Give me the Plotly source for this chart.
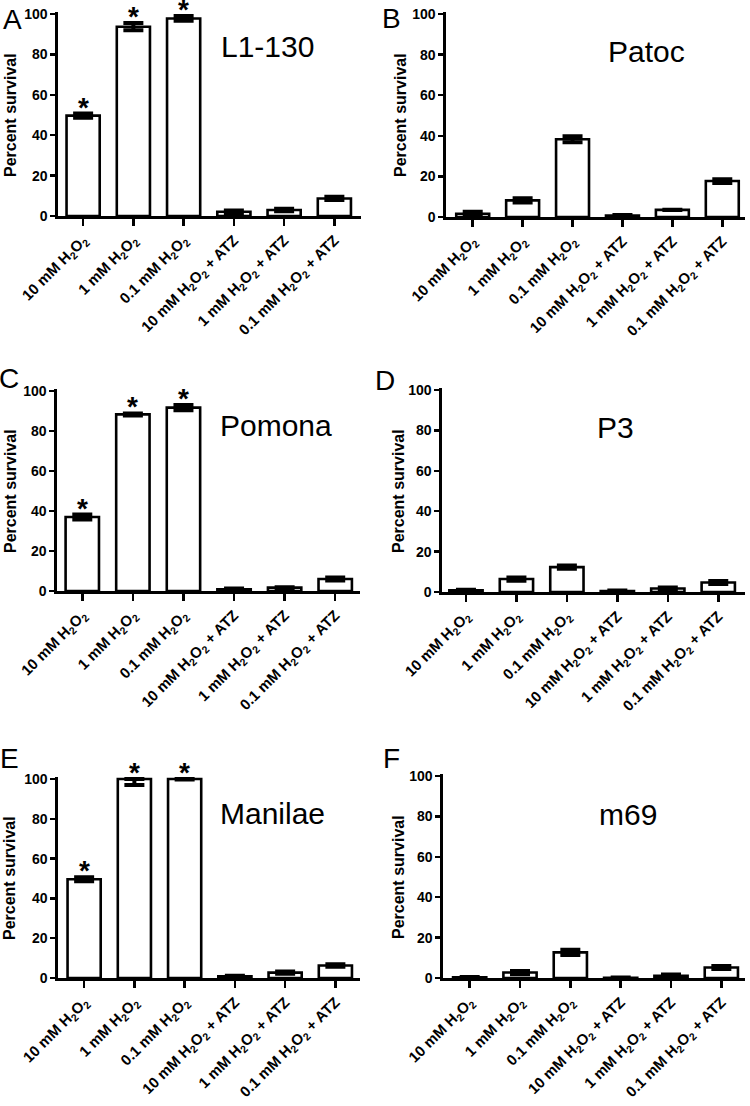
import plotly.graph_objects as go

# ---------------- data ----------------
categories = [
    "10 mM H<sub>2</sub>O<sub>2</sub>",
    "1 mM H<sub>2</sub>O<sub>2</sub>",
    "0.1 mM H<sub>2</sub>O<sub>2</sub>",
    "10 mM H<sub>2</sub>O<sub>2</sub> + ATZ",
    "1 mM H<sub>2</sub>O<sub>2</sub> + ATZ",
    "0.1 mM H<sub>2</sub>O<sub>2</sub> + ATZ",
]
strains = ["L1-130", "Patoc", "Pomona", "P3", "Manilae", "m69"]
panel_letters = ["A", "B", "C", "D", "E", "F"]
y_ticks = [0, 20, 40, 60, 80, 100]
y_title = "Percent survival"

surv_L1_130 = [49.7, 93.7, 97.8, 2.1, 3.0, 8.7]
err_L1_130 = [1.0, 1.8, 1.2, 0.6, 0.6, 0.8]
sig_L1_130 = [True, True, True, False, False, False]

surv_Patoc = [1.6, 8.2, 38.3, 0.7, 3.5, 17.7]
err_Patoc = [1.0, 1.0, 1.5, 0.3, 0.1, 0.9]
sig_Patoc = [False] * 6

surv_Pomona = [37.0, 88.3, 91.7, 0.9, 1.7, 6.0]
err_Pomona = [1.2, 0.5, 1.3, 0.4, 0.2, 0.8]
sig_Pomona = [True, True, True, False, False, False]

surv_P3 = [0.8, 6.4, 12.3, 0.5, 1.7, 4.7]
err_P3 = [0.3, 0.8, 0.8, 0.3, 0.5, 0.8]
sig_P3 = [False] * 6

surv_Manilae = [49.6, 100.0, 100.0, 0.8, 2.7, 6.3]
err_plus_Manilae = [1.0, 0.0, 0.2, 0.3, 0.6, 0.6]
err_minus_Manilae = [1.0, 3.0, 0.2, 0.3, 0.6, 0.6]
sig_Manilae = [True, True, True, False, False, False]

surv_m69 = [0.3, 2.7, 12.7, 0.1, 1.1, 5.2]
err_m69 = [0.2, 0.8, 1.3, 0.1, 0.6, 0.8]
sig_m69 = [False] * 6

values = [surv_L1_130, surv_Patoc, surv_Pomona, surv_P3, surv_Manilae, surv_m69]
err_plus = [err_L1_130, err_Patoc, err_Pomona, err_P3, err_plus_Manilae, err_m69]
err_minus = [err_L1_130, err_Patoc, err_Pomona, err_P3, err_minus_Manilae, err_m69]
sigs = [sig_L1_130, sig_Patoc, sig_Pomona, sig_P3, sig_Manilae, sig_m69]

# ---------------- layout (pixel geometry) ----------------
W, H = 750, 1106
# x_left, x_right, y_px_at_100, y_px_at_0, x range
panels = [
    dict(xl=58, xr=361, y100=14, y0=216, xr_=[-0.50, 5.53]),
    dict(xl=446, xr=745, y100=14, y0=217, xr_=[-0.535, 5.455]),
    dict(xl=57, xr=360, y100=391, y0=591, xr_=[-0.50, 5.49]),
    dict(xl=442, xr=745, y100=390, y0=592, xr_=[-0.475, 5.53]),
    dict(xl=58, xr=360, y100=779, y0=978, xr_=[-0.52, 5.49]),
    dict(xl=443, xr=745, y100=776, y0=978, xr_=[-0.53, 5.47]),
]
title_pos = [(267, 47), (646, 52), (276, 425), (615, 428), (272, 813), (628, 814)]
letter_pos = [(12, 20), (392, 19), (9, 378), (385, 380), (9, 758), (392, 758)]
ytitle_pos = [(10, 115), (400, 115), (10, 491), (398, 491), (10, 878), (398, 877)]

FONT = "Liberation Sans, Arial, sans-serif"
YMAX = 101.0

fig = go.Figure()
annotations = []
layout_axes = {}

for i in range(6):
    p = panels[i]
    n = "" if i == 0 else str(i + 1)
    xa, ya = "x" + n, "y" + n
    ppu = (p["y0"] - p["y100"]) / 100.0
    ytop_px = p["y0"] - YMAX * ppu
    fig.add_trace(go.Bar(
        x=list(range(6)), y=values[i],
        xaxis=xa, yaxis=ya,
        width=0.66,
        marker=dict(color="white", line=dict(color="black", width=2.6)),
        error_y=dict(type="data", array=err_plus[i], arrayminus=err_minus[i],
                     symmetric=False, color="black", thickness=4, width=10),
        showlegend=False, hoverinfo="skip",
    ))
    layout_axes["xaxis" + n] = dict(
        domain=[p["xl"] / W, p["xr"] / W],
        range=p["xr_"], anchor=ya, automargin=False,
        tickmode="array", tickvals=list(range(6)), ticktext=categories,
        tickangle=-45, ticks="outside", ticklen=7, tickwidth=2.5, tickcolor="black",
        showline=True, linewidth=2.6, linecolor="black",
        showgrid=False, zeroline=False, fixedrange=True,
        tickfont=dict(family=FONT, size=15, color="black", weight="bold"),
    )
    layout_axes["yaxis" + n] = dict(
        domain=[1 - p["y0"] / H, 1 - ytop_px / H],
        range=[0, YMAX], anchor=xa, automargin=False,
        tickmode="array", tickvals=y_ticks,
        ticks="outside", ticklen=5, tickwidth=2.5, tickcolor="black",
        showline=True, linewidth=2.6, linecolor="black",
        showgrid=False, zeroline=False, fixedrange=True,
        tickfont=dict(family=FONT, size=14, color="black", weight="bold"),
    )
    # asterisks
    for j in range(6):
        if sigs[i][j]:
            annotations.append(dict(
                x=j, y=values[i][j] + err_plus[i][j], xref=xa, yref=ya,
                text="*", showarrow=False, xanchor="center", yanchor="bottom",
                yshift=-11,
                font=dict(family=FONT, size=28, color="black", weight="bold"),
            ))
    # strain title
    tx, ty = title_pos[i]
    annotations.append(dict(
        x=tx / W, y=1 - ty / H, xref="paper", yref="paper", text=strains[i],
        showarrow=False, xanchor="center", yanchor="middle",
        font=dict(family=FONT, size=30, color="black"),
    ))
    # panel letter
    lx, ly = letter_pos[i]
    annotations.append(dict(
        x=lx / W, y=1 - ly / H, xref="paper", yref="paper", text=panel_letters[i],
        showarrow=False, xanchor="center", yanchor="middle",
        font=dict(family=FONT, size=28, color="black"),
    ))
    # y-axis title
    yx, yy = ytitle_pos[i]
    annotations.append(dict(
        x=yx / W, y=1 - yy / H, xref="paper", yref="paper", text=y_title,
        showarrow=False, xanchor="center", yanchor="middle", textangle=-90,
        font=dict(family=FONT, size=16, color="black", weight="bold"),
    ))

fig.update_layout(
    width=W, height=H,
    margin=dict(l=0, r=0, t=0, b=0),
    paper_bgcolor="white", plot_bgcolor="white",
    annotations=annotations,
    **layout_axes,
)

fig.write_html(
    "out.html",
    config={"displayModeBar": False, "staticPlot": True},
    post_script="document.body.style.margin='0';document.body.style.padding='0';"
                "document.documentElement.style.overflow='hidden';",
)
